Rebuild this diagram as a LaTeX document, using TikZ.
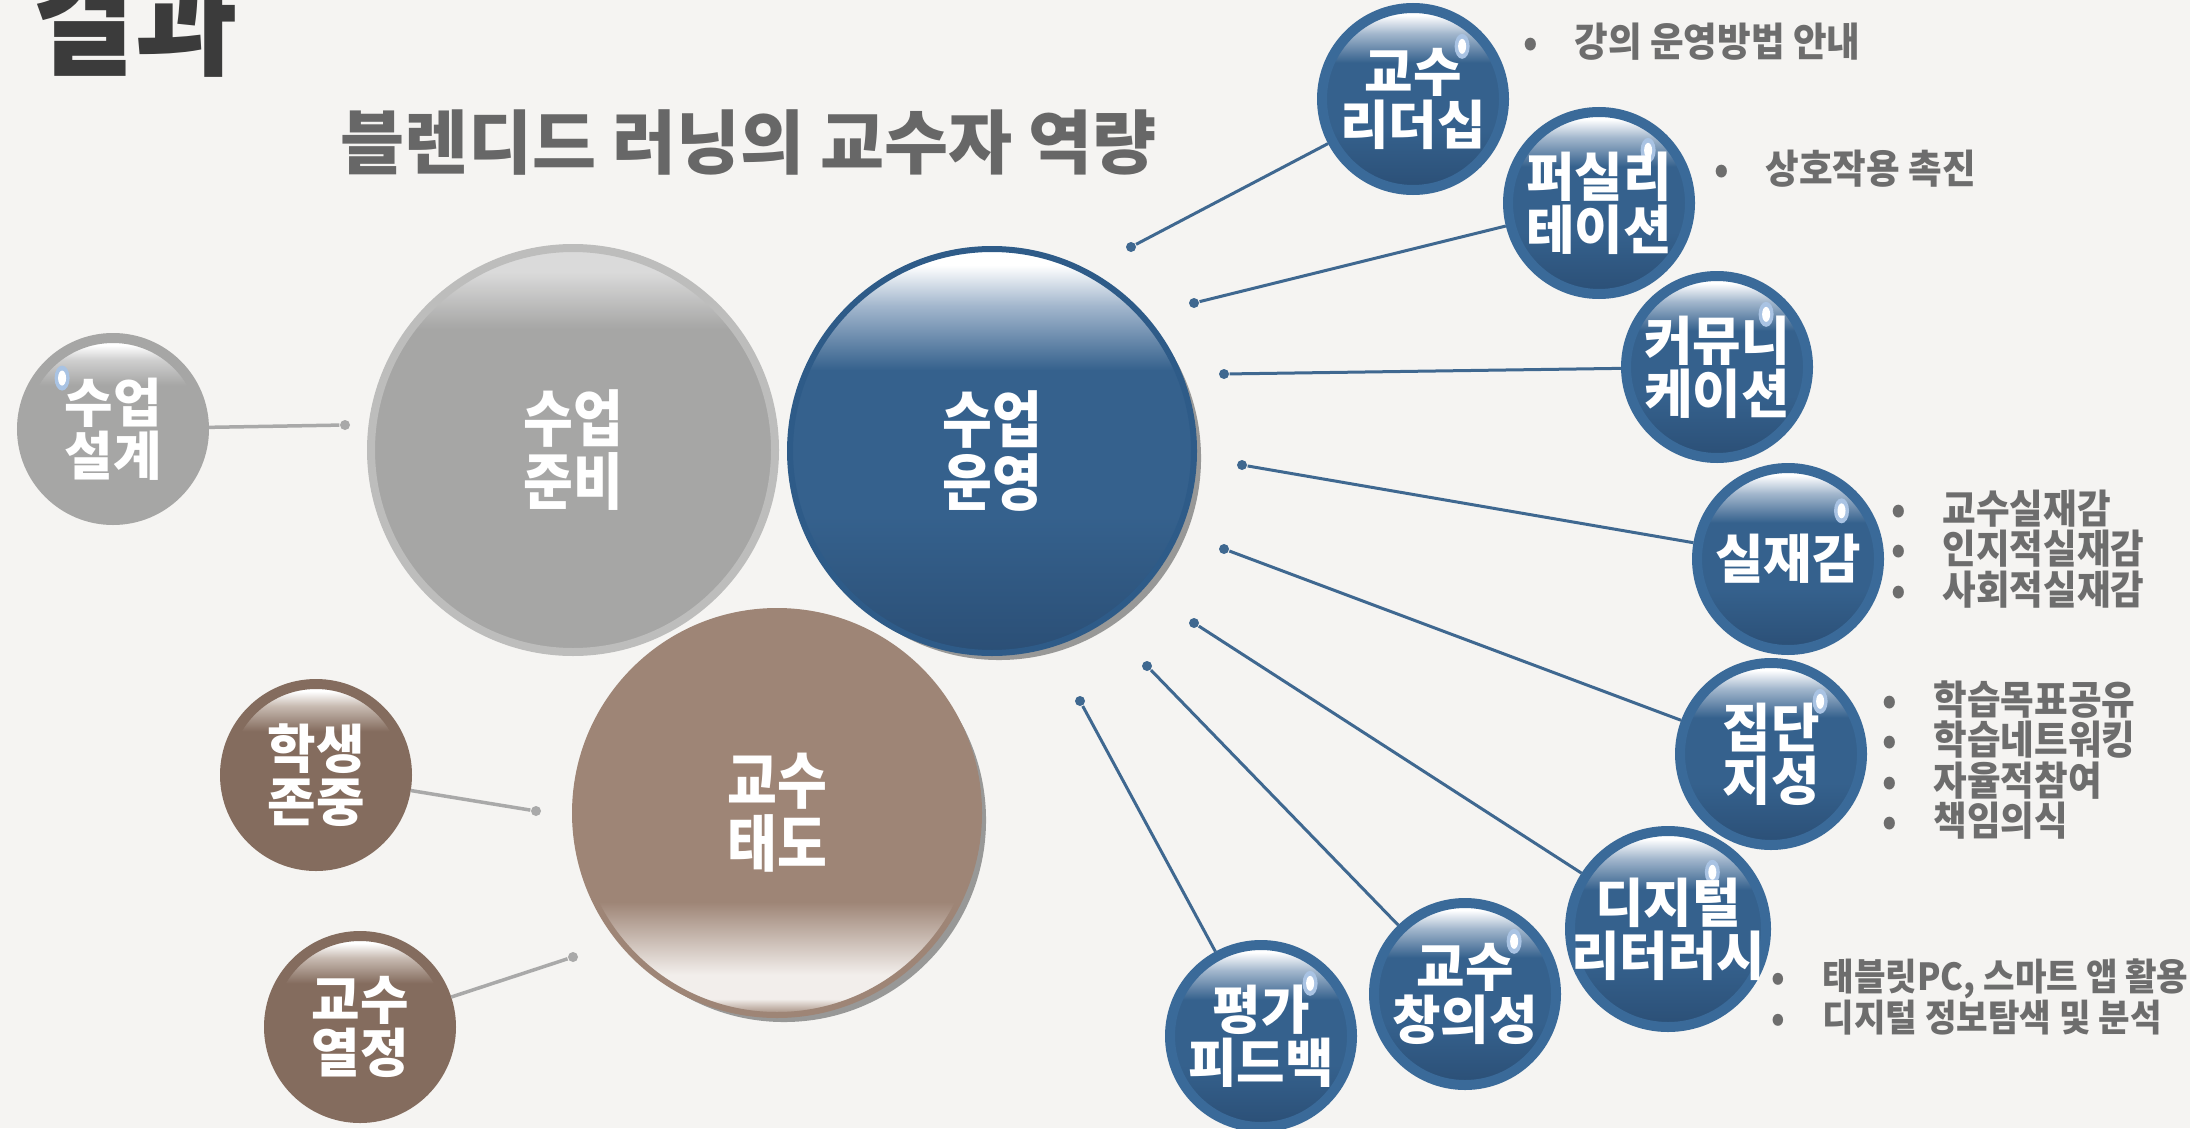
\documentclass[tikz,border=0pt]{standalone}
\usepackage{fontspec}
\newfontfamily\krc{Noto Sans CJK KR}[FakeStretch=0.88]
\newfontfamily\krn{Noto Sans CJK KR}[FakeStretch=0.92]
\newfontfamily\kr{Noto Sans CJK KR}
\usetikzlibrary{shadows}
\definecolor{bgc}{HTML}{F5F4F2}
\definecolor{blrim}{HTML}{3A6A99}
\definecolor{blmid}{HTML}{35618D}
\definecolor{bldark}{HTML}{2B4F76}
\definecolor{blsoft}{HTML}{A3B7CD}
\definecolor{bledge}{HTML}{2E5B88}
\definecolor{grmid}{HTML}{A6A6A5}
\definecolor{grrim}{HTML}{BDBDBC}
\definecolor{grtop}{HTML}{DADADA}
\definecolor{grsoft}{HTML}{CFCFCF}
\definecolor{brbig}{HTML}{9E8576}
\definecolor{brlow}{HTML}{F2EEEB}
\definecolor{brsmall}{HTML}{846C5E}
\definecolor{brsoft}{HTML}{C8BBB2}
\definecolor{lnblue}{HTML}{3F6890}
\definecolor{lngray}{HTML}{A9A9A9}
\definecolor{txgray}{HTML}{6D6D6D}
\definecolor{subgray}{HTML}{676767}
\definecolor{ttl}{HTML}{3B3B3B}
\definecolor{shd}{HTML}{8E8E8E}
\definecolor{glowc}{HTML}{A9C3E3}
\pgfdeclareverticalshading{blueball}{100bp}{color(0bp)=(bldark); color(25bp)=(bldark); color(42bp)=(blmid); color(60bp)=(blmid); color(68bp)=(blsoft); color(73bp)=(white); color(100bp)=(white)}
\pgfdeclareverticalshading{graybig}{100bp}{color(0bp)=(grmid); color(65bp)=(grmid); color(72bp)=(grtop); color(100bp)=(grtop)}
\pgfdeclareverticalshading{graysmall}{100bp}{color(0bp)=(grmid); color(62bp)=(grmid); color(69bp)=(grsoft); color(73bp)=(white); color(100bp)=(white)}
\pgfdeclareverticalshading{brownsmall}{100bp}{color(0bp)=(brsmall); color(62bp)=(brsmall); color(69bp)=(brsoft); color(73bp)=(white); color(100bp)=(white)}
\pgfdeclareverticalshading{brownbig}{100bp}{color(0bp)=(brbig); color(25bp)=(brbig); color(27bp)=(brlow); color(30bp)=(brlow); color(39bp)=(brbig); color(100bp)=(brbig)}
\newcommand\gloss[1]{%
  \fill[glowc] ([shift={(#1:7.2mm)}]path picture bounding box.center) ellipse (0.75mm and 1.25mm);
  \fill[white] ([shift={(#1:7.2mm)}]path picture bounding box.center) ellipse (0.4mm and 0.75mm);}
\newcommand\itm{\makebox[0pt][c]{•}\hspace{4.4mm}}

\begin{document}
\begin{tikzpicture}[x=0.1mm, y=-0.1mm,
  ball/.style={circle, shade, inner sep=-2.5mm, align=center, text=white},
  bigball/.style={ball, minimum size=40.4mm, line width=0.6mm,
    font=\krc\bfseries\fontsize{17.5}{18}\selectfont},
  smallball/.style={ball, minimum size=18.2mm, line width=1mm,
    font=\kr\bfseries\fontsize{15}{15}\selectfont},
  bluesm/.style={smallball, draw=blrim, shading=blueball, path picture={\gloss{#1}}},
  bluesm/.default=47,
  graysm/.style={smallball, draw=grmid, shading=graysmall, path picture={\gloss{135}}},
  brownsm/.style={smallball, draw=brsmall, shading=brownsmall},
  dotb/.style={circle, fill=lnblue, inner sep=0pt, minimum size=1mm},
  dotg/.style={circle, fill=lngray, inner sep=0pt, minimum size=1mm},
  lineb/.style={draw=lnblue, line width=0.3mm},
  lineg/.style={draw=lngray, line width=0.35mm},
  note/.style={anchor=west, inner sep=0pt, align=left, text=txgray,
    font=\krn\bfseries\fontsize{11.3}{11.5}\selectfont}
  ]
  \useasboundingbox (0,0) rectangle (2190,1128);
  \fill[bgc] (0,0) rectangle (2190,1128);

  \node[anchor=west, inner sep=0pt, text=ttl,
    font=\krc\bfseries\fontsize{36}{36}\selectfont] (title) at (32,18) {결과};
  \node[anchor=west, inner sep=0pt, text=subgray,
    font=\kr\bfseries\fontsize{19.8}{21}\selectfont] (subtitle) at (340,143) {블렌디드 러닝의 교수자 역량};

  % big circles
  \node[bigball, draw=grrim, line width=0.8mm, shading=graybig] (prep) at (573,450) {수업\\준비};
  \node[bigball, draw=bledge, shading=blueball,
    drop shadow={shadow xshift=2pt, shadow yshift=-2pt, fill=shd, opacity=0.9}] (run) at (992,451) {수업\\운영};
  \node[bigball, draw=brbig, shading=brownbig,
    drop shadow={shadow xshift=2pt, shadow yshift=-2pt, fill=shd, opacity=0.9}] (att) at (777,813) {교수\\태도};

  % small circles
  \node[graysm] (design) at (113,429) {수업\\설계};
  \node[brownsm] (resp) at (316,775) {학생\\존중};
  \node[brownsm] (pass) at (360,1027) {교수\\열정};

  \node[bluesm] (lead) at (1413,99) {교수\\리더십};
  \node[bluesm] (faci) at (1599,203) {퍼실리\\테이션};
  \node[bluesm] (comm) at (1717,367) {커뮤니\\케이션};
  \node[bluesm=42] (pres) at (1788,559) {실재감};
  \node[bluesm] (coll) at (1771,754) {집단\\지성};
  \node[bluesm=52, minimum size=19.6mm] (digi) at (1668,929) {디지털\\리터러시};
  \node[bluesm] (crea) at (1465,994) {교수\\창의성};
  \node[bluesm] (eval) at (1261,1036) {평가\\피드백};

  % dots and connectors
  \node[dotg] (d-design) at (345,425) {};
  \node[dotg] (d-resp) at (536,811) {};
  \node[dotg] (d-pass) at (573,957) {};
  \node[dotb] (d-lead) at (1131,247) {};
  \node[dotb] (d-faci) at (1194,303) {};
  \node[dotb] (d-comm) at (1224,374) {};
  \node[dotb] (d-pres) at (1242,465) {};
  \node[dotb] (d-coll) at (1224,549) {};
  \node[dotb] (d-digi) at (1194,623) {};
  \node[dotb] (d-crea) at (1147,666) {};
  \node[dotb] (d-eval) at (1080,701) {};

  \draw[lineg] (d-design) -- (design);
  \draw[lineg] (d-resp) -- (resp);
  \draw[lineg] (d-pass) -- (pass);
  \foreach \k in {lead,faci,comm,pres,coll,digi,crea,eval}
    \draw[lineb] (d-\k) -- (\k);

  % notes
  \node[note] (n-lead) at (1530,42) {\itm 강의 운영방법 안내};
  \node[note] (n-faci) at (1721,169) {\itm 상호작용 촉진};
  \node[note] (n-pres) at (1898,549) {\itm 교수실재감\\\itm 인지적실재감\\\itm 사회적실재감};
  \node[note] (n-coll) at (1889,760) {\itm 학습목표공유\\\itm 학습네트워킹\\\itm 자율적참여\\\itm 책임의식};
  \node[note, font=\krn\bfseries\fontsize{10.6}{11.5}\selectfont] (n-digi) at (1778,997)
    {\itm 태블릿PC, 스마트 앱 활용\\\itm 디지털 정보탐색 및 분석};
\end{tikzpicture}
\end{document}
